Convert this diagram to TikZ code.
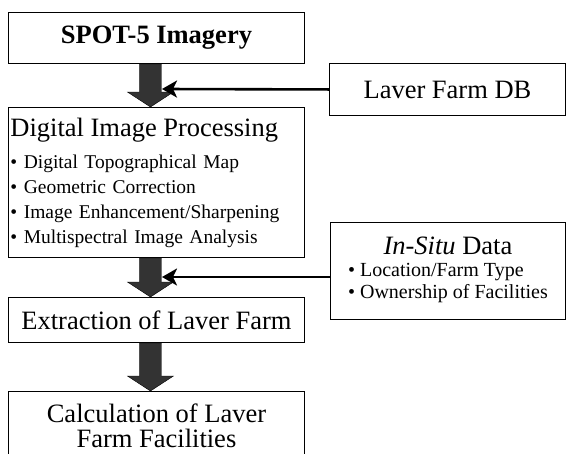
\documentclass[tikz,border=0pt]{standalone}
\usepackage{fontspec}
\setmainfont{Liberation Serif}
\usepackage{tikz}
\usetikzlibrary{arrows.meta, calc}

\newcommand{\headfont}{\fontsize{26.5}{30}\selectfont}
\newcommand{\listfont}{\fontsize{19.5}{25}\selectfont}
\newcommand{\sitefont}{\fontsize{20}{22}\selectfont}

% wide shaded arrow between two stacked boxes
\newcommand{\fatarrow}[2]{%
  \path[fat] let \p1=($(#1.south)+(-6,0)$), \p2=($(#2.north)+(-6,0)$) in
    ({\x1-11pt},\y1) -- ({\x1+11pt},\y1) -- ({\x1+11pt},{\y2+15pt}) -- ({\x1+23pt},{\y2+15pt})
    -- (\x2,\y2) -- ({\x1-23pt},{\y2+15pt}) -- ({\x1-11pt},{\y2+15pt}) -- cycle;}

\begin{document}
\begin{tikzpicture}[x=1pt, y=-1pt,
  box/.style={draw, line width=0.9pt, inner sep=0pt, anchor=north west, font=\headfont},
  feed/.style={line width=2.6pt, -{Stealth[length=15pt,width=17pt,inset=4pt]}},
  fat/.style={fill=black!80, draw=black, line width=0.4pt}]
\useasboundingbox (0,0) rectangle (567,453);

%left column
\node[box, minimum width=296pt, minimum height=51pt, font=\headfont\bfseries] (spot) at (8,12) {SPOT-5 Imagery};
\node[box, minimum width=296pt, minimum height=150pt, text width=292pt, inner xsep=2pt, align=left, font=\listfont] (dip) at (8,107)
  {{\headfont Digital Image Processing}\\[7pt]
   \textbullet\ Digital Topographical Map\\
   \textbullet\ Geometric Correction\\
   \textbullet\ Image Enhancement/Sharpening\\
   \textbullet\ Multispectral Image Analysis};
\node[box, minimum width=296pt, minimum height=45pt] (extract) at (8,297) {Extraction of Laver Farm};
\node[box, minimum width=296pt, inner ysep=12pt, align=center, font=\fontsize{26.5}{25}\selectfont] (calc) at (8,391)
  {Calculation of Laver\\Farm Facilities};

%right column
\node[box, minimum width=236pt, minimum height=52pt] (laverdb) at (329,63) {Laver Farm DB};
\node[box, minimum width=235pt, minimum height=97pt, font=\sitefont] (insitu) at (330,222)
  {\begin{tabular}{@{}l@{}}
   \multicolumn{1}{@{}c@{}}{\headfont\textit{In-Situ} Data}\\
   \textbullet\ Location/Farm Type\\
   \textbullet\ Ownership of Facilities
   \end{tabular}};

\fatarrow{spot}{dip}
\fatarrow{dip}{extract}
\fatarrow{extract}{calc}

\coordinate (dbtip) at (162,89);
\coordinate (sitetip) at (162,277);
\draw[feed] (laverdb.west) -- (dbtip);
\draw[feed] (insitu.west |- sitetip) -- (sitetip);

\end{tikzpicture}
\end{document}
